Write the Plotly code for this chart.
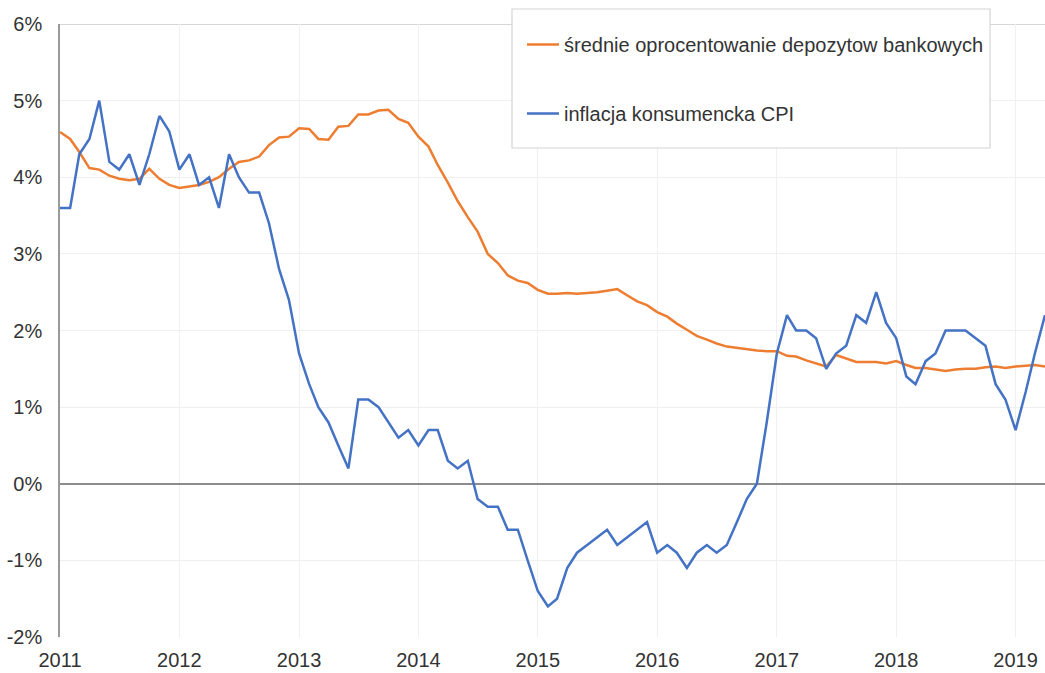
import pandas as pd
import plotly.graph_objects as go

months = pd.date_range("2011-01-01", "2019-04-01", freq="MS")

deposit_rate = [
    4.59, 4.50, 4.33, 4.12, 4.10, 4.02, 3.98, 3.96, 3.98, 4.11, 3.98, 3.90,
    3.86, 3.88, 3.90, 3.94, 4.00, 4.11, 4.20, 4.22, 4.27, 4.42, 4.52, 4.53,
    4.64, 4.63, 4.50, 4.49, 4.66, 4.67, 4.82, 4.82, 4.87, 4.88, 4.76, 4.71,
    4.53, 4.40, 4.16, 3.93, 3.69, 3.48, 3.29, 3.00, 2.88, 2.72, 2.65, 2.62,
    2.53, 2.48, 2.48, 2.49, 2.48, 2.49, 2.50, 2.52, 2.54, 2.46, 2.38, 2.33,
    2.24, 2.18, 2.09, 2.01, 1.93, 1.88, 1.83, 1.79, 1.77, 1.76, 1.74, 1.73,
    1.73, 1.67, 1.66, 1.61, 1.57, 1.53, 1.68, 1.64, 1.59, 1.59, 1.59, 1.57,
    1.60, 1.55, 1.51, 1.51, 1.49, 1.47, 1.49, 1.50, 1.50, 1.52, 1.53, 1.51,
    1.53, 1.54, 1.55, 1.53,
]

cpi = [
    3.6, 3.6, 4.3, 4.5, 5.0, 4.2, 4.1, 4.3, 3.9, 4.3, 4.8, 4.6,
    4.1, 4.3, 3.9, 4.0, 3.6, 4.3, 4.0, 3.8, 3.8, 3.4, 2.8, 2.4,
    1.7, 1.3, 1.0, 0.8, 0.5, 0.2, 1.1, 1.1, 1.0, 0.8, 0.6, 0.7,
    0.5, 0.7, 0.7, 0.3, 0.2, 0.3, -0.2, -0.3, -0.3, -0.6, -0.6, -1.0,
    -1.4, -1.6, -1.5, -1.1, -0.9, -0.8, -0.7, -0.6, -0.8, -0.7, -0.6, -0.5,
    -0.9, -0.8, -0.9, -1.1, -0.9, -0.8, -0.9, -0.8, -0.5, -0.2, 0.0, 0.8,
    1.7, 2.2, 2.0, 2.0, 1.9, 1.5, 1.7, 1.8, 2.2, 2.1, 2.5, 2.1,
    1.9, 1.4, 1.3, 1.6, 1.7, 2.0, 2.0, 2.0, 1.9, 1.8, 1.3, 1.1,
    0.7, 1.2, 1.7, 2.2,
]

series_names = ["średnie oprocentowanie depozytow bankowych", "inflacja konsumencka CPI"]
year_ticks = [str(y) for y in range(2011, 2020)]
y_ticks = list(range(-2, 7))

ORANGE = "#ED7D31"
BLUE = "#4472C4"
TEXT = "#333333"
FONT = "Liberation Sans, Arial, sans-serif"

W, H = 1045, 673
ML, MT, MB = 60, 24, 36
PW, PH = W - ML, H - MT - MB


def px_x(px):  # page pixel -> paper x
    return (px - ML) / PW


def px_y(py):  # page pixel -> paper y
    return (H - MB - py) / PH


fig = go.Figure()
fig.add_trace(go.Scatter(x=months, y=deposit_rate, mode="lines", name=series_names[0],
                         line=dict(color=ORANGE, width=2.5), legendgroup="a"))
fig.add_trace(go.Scatter(x=months, y=cpi, mode="lines", name=series_names[1],
                         line=dict(color=BLUE, width=2.5), legendgroup="b"))

fig.update_layout(
    width=W, height=H,
    margin=dict(l=ML, r=0, t=MT, b=MB, autoexpand=False),
    paper_bgcolor="white", plot_bgcolor="white",
    font=dict(family=FONT, size=20, color=TEXT),
    legend=dict(
        x=px_x(522), y=px_y(25), xanchor="left", yanchor="top",
        borderwidth=0, bgcolor="rgba(0,0,0,0)",
        font=dict(size=20, color=TEXT),
        tracegroupgap=40, traceorder="grouped",
        itemwidth=32,
    ),
    showlegend=True,
)

fig.update_xaxes(
    type="date",
    range=[months[0], months[-1]],
    tickvals=[pd.Timestamp(f"{y}-01-01") for y in year_ticks],
    ticktext=year_ticks,
    showgrid=True, gridcolor="#f0f0f0", gridwidth=1,
    showline=False, zeroline=False,
    ticks="", ticklabelstandoff=9, automargin=False,
    tickfont=dict(size=20, color=TEXT),
)

fig.update_yaxes(
    range=[-2, 6],
    tickvals=y_ticks,
    ticktext=[f"{v}%" for v in y_ticks],
    showgrid=True, gridcolor="#efefef", gridwidth=1,
    zeroline=True, zerolinecolor="#8c8c8c", zerolinewidth=2,
    showline=True, linecolor="#9a9a9a", linewidth=1.5,
    ticks="", ticklabelstandoff=12, automargin=False,
    tickfont=dict(size=20, color=TEXT),
)

# plot frame top line
fig.add_shape(type="line", xref="paper", yref="y", x0=0, x1=1, y0=6, y1=6,
              line=dict(color="#c8c8c8", width=1.5), layer="below")
# legend box
fig.add_shape(type="rect", xref="paper", yref="paper",
              x0=px_x(512), x1=px_x(990), y0=px_y(148), y1=px_y(9),
              line=dict(color="#d4d4d4", width=1.2), fillcolor="white", layer="above")

fig.write_html(
    "out.html",
    config={"displayModeBar": False},
    post_script="document.body.style.margin='0';document.body.style.overflow='hidden';",
)
